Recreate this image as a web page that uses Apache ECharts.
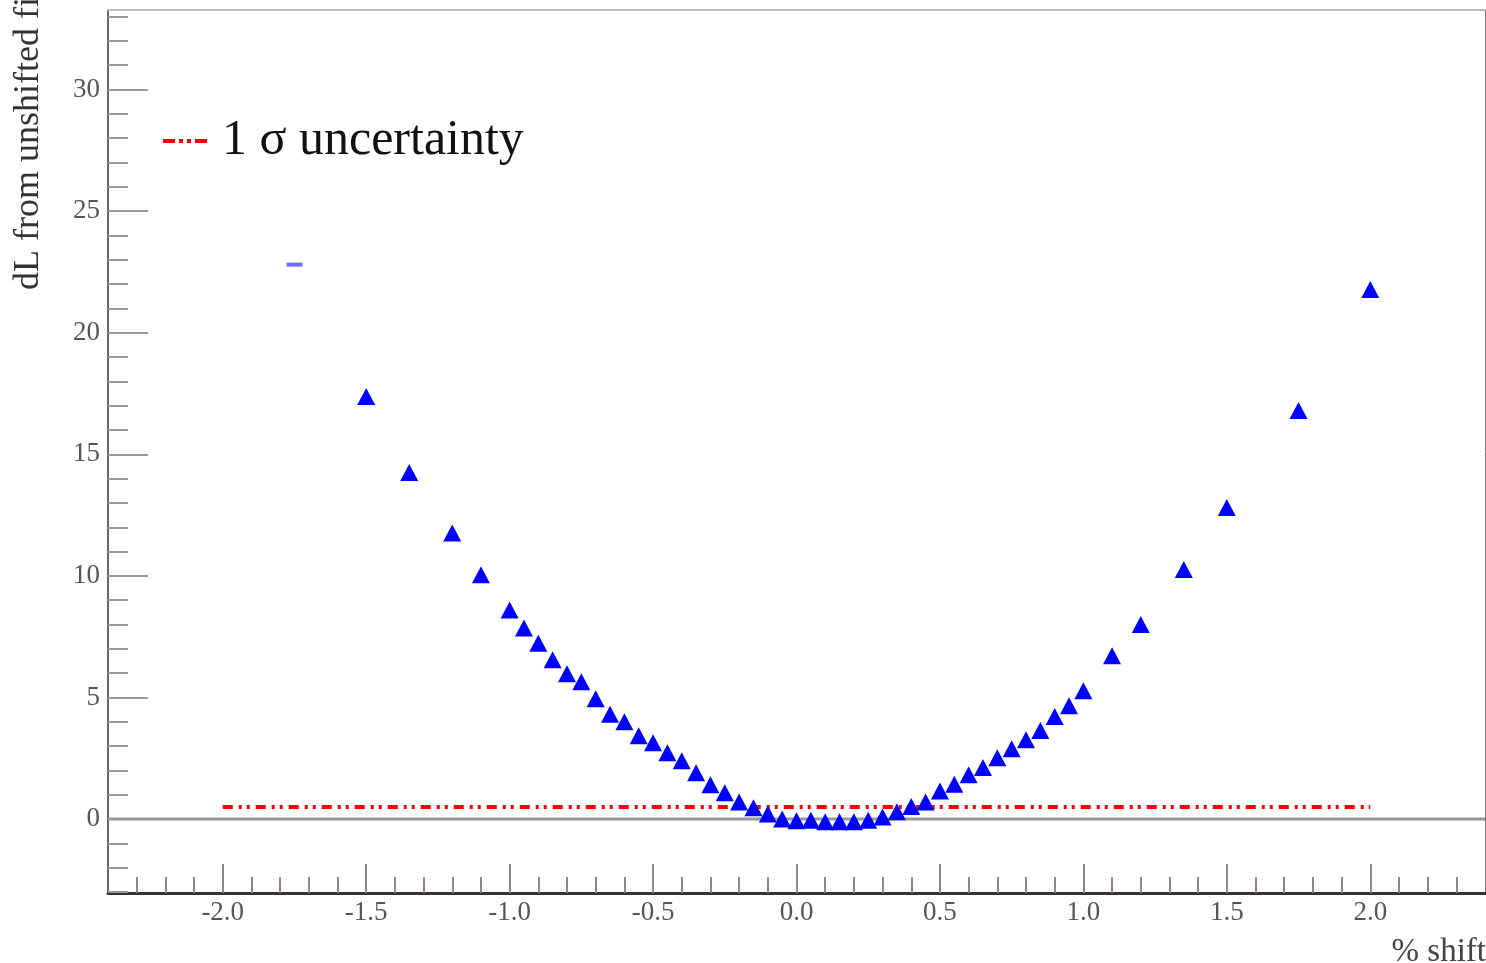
<!DOCTYPE html>
<html>
<head>
<meta charset="utf-8">
<script src="https://cdn.jsdelivr.net/npm/echarts@6/dist/echarts.min.js"></script>
<style>
html,body{margin:0;padding:0;background:#fff;}
#chart{width:1486px;height:963px;}
</style>
</head>
<body>
<div id="chart"></div>
<script>
// ---- data ----
const shiftX = [-1.5,-1.35,-1.2,-1.1,-1.0,-0.95,-0.9,-0.85,-0.8,-0.75,-0.7,-0.65,-0.6,-0.55,-0.5,-0.45,-0.4,-0.35,-0.3,-0.25,-0.2,-0.15,-0.1,-0.05,0.0,0.05,0.1,0.15,0.2,0.25,0.3,0.35,0.4,0.45,0.5,0.55,0.6,0.65,0.7,0.75,0.8,0.85,0.9,0.95,1.0,1.1,1.2,1.35,1.5,1.75,2.0];
const dL = [17.38,14.25,11.76,10.05,8.6,7.86,7.23,6.55,5.98,5.65,4.95,4.31,4.0,3.43,3.14,2.73,2.4,1.9,1.41,1.08,0.7,0.47,0.21,0.0,-0.07,-0.05,-0.11,-0.11,-0.11,-0.05,0.09,0.3,0.52,0.7,1.15,1.43,1.82,2.12,2.52,2.89,3.26,3.64,4.22,4.66,5.28,6.72,8.0,10.26,12.81,16.8,21.78];
const clippedX = [-1.75];
const clippedY = [22.8];
const sigmaX = [-2.0, 2.0];
const sigmaY = [0.5, 0.5];
const yTickLabels = [0,5,10,15,20,25,30];
const xTickLabels = [-2.0,-1.5,-1.0,-0.5,0.0,0.5,1.0,1.5,2.0];
const legendLabel = '1 σ uncertainty';
const yTitle = 'dL from unshifted fit';
const xTitle = '% shift';

const X_MIN = -2.4, X_MAX = 2.4, Y_MIN = -3.04, Y_MAX = 33.27;
const yMinor = []; for (let v = -3; v <= 33; v++) yMinor.push(v);
const xMinor = []; for (let i = -23; i <= 23; i++) xMinor.push(i / 10);

const serif = "'Liberation Serif', 'DejaVu Serif', serif";
const chart = echarts.init(document.getElementById('chart'));
chart.setOption({
  animation: false,
  backgroundColor: '#fff',
  grid: { left: 108, top: 10, right: 1, bottom: 70, containLabel: false },
  xAxis: [
    { type: 'value', min: X_MIN, max: X_MAX, position: 'bottom',
      axisLine: { show: true, onZero: false, lineStyle: { color: '#3a3232', width: 3 } },
      axisTick: { show: true, inside: true, length: 29, customValues: xTickLabels, lineStyle: { color: '#888', width: 2 } },
      axisLabel: { show: true, customValues: xTickLabels, margin: 6, formatter: v => v.toFixed(1),
        fontFamily: serif, fontSize: 27, color: '#555' },
      splitLine: { show: false } },
    { type: 'value', min: X_MIN, max: X_MAX, position: 'bottom',
      axisLine: { show: false, onZero: false },
      axisTick: { show: true, inside: true, length: 16, customValues: xMinor, lineStyle: { color: '#888', width: 2 } },
      axisLabel: { show: false }, splitLine: { show: false } },
    { type: 'value', min: X_MIN, max: X_MAX, position: 'top',
      axisLine: { show: true, onZero: false, lineStyle: { color: '#bbb', width: 2 } },
      axisTick: { show: false }, axisLabel: { show: false }, splitLine: { show: false } }
  ],
  yAxis: [
    { type: 'value', min: Y_MIN, max: Y_MAX, position: 'left',
      axisLine: { show: true, onZero: false, lineStyle: { color: '#666', width: 2 } },
      axisTick: { show: true, inside: true, length: 40, customValues: yTickLabels, lineStyle: { color: '#999', width: 2 } },
      axisLabel: { show: true, customValues: yTickLabels, margin: 8, fontFamily: serif, fontSize: 27, color: '#555' },
      splitLine: { show: false } },
    { type: 'value', min: Y_MIN, max: Y_MAX, position: 'left',
      axisLine: { show: false, onZero: false },
      axisTick: { show: true, inside: true, length: 20, customValues: yMinor, lineStyle: { color: '#999', width: 2 } },
      axisLabel: { show: false }, splitLine: { show: false } },
    { type: 'value', min: Y_MIN, max: Y_MAX, position: 'right',
      axisLine: { show: true, onZero: false, lineStyle: { color: '#777', width: 1 } },
      axisTick: { show: false }, axisLabel: { show: false }, splitLine: { show: false } }
  ],
  series: [
    { type: 'line', name: 'zero', data: [[X_MIN, 0], [X_MAX, 0]], symbol: 'none', silent: true,
      lineStyle: { color: '#999', width: 3 }, z: 1 },
    { type: 'line', name: legendLabel, data: sigmaX.map((x, i) => [x, sigmaY[i]]), symbol: 'none',
      lineStyle: { color: '#ff0000', width: 4, type: [10, 6, 3, 5, 3, 6] }, z: 3 },
    { type: 'scatter', name: 'dL', data: shiftX.map((x, i) => [x, dL[i]]), symbol: 'triangle',
      symbolSize: [18, 17], itemStyle: { color: '#0000ff', opacity: 1 }, z: 4 },
    { type: 'scatter', name: 'clipped', data: clippedX.map((x, i) => [x, clippedY[i]]), symbol: 'rect',
      symbolSize: [16, 4], itemStyle: { color: '#6f6fff', opacity: 1 }, z: 4 }
  ],
  graphic: [
    { type: 'line', shape: { x1: 163, y1: 141, x2: 210, y2: 141 },
      style: { stroke: '#ff0000', lineWidth: 4, lineDash: [12, 4, 4, 4, 4, 4] }, z: 10 },
    { type: 'text', x: 222, y: 141, style: { text: legendLabel, font: "50px " + serif, fill: '#111',
      textAlign: 'left', textVerticalAlign: 'middle' }, z: 10 },
    { type: 'text', x: 29, y: 290, rotation: Math.PI / 2,
      style: { text: yTitle, font: "36px " + serif, fill: '#333', textAlign: 'left', textVerticalAlign: 'middle' }, z: 10 },
    { type: 'text', x: 1486, y: 936, style: { text: xTitle, font: "33px " + serif, fill: '#444',
      textAlign: 'right', textVerticalAlign: 'top' }, z: 10 }
  ]
});
</script>
</body>
</html>
